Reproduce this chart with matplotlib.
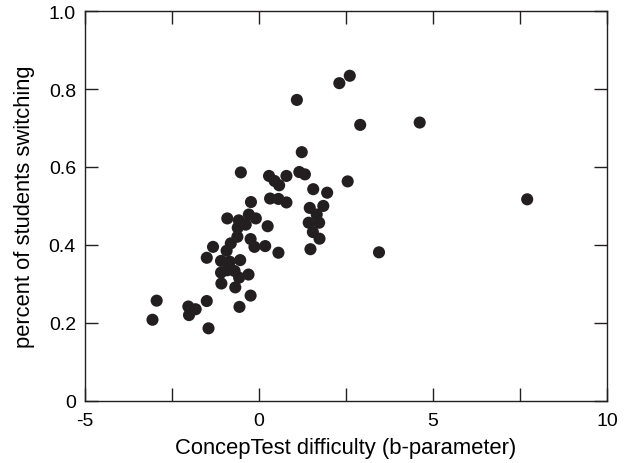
import matplotlib
matplotlib.use('Agg')
import matplotlib.pyplot as plt
import numpy as np

plt.rcParams["font.family"] = 'Liberation Sans'
plt.rcParams["font.size"] = 14

# b-parameter (difficulty) per ConcepTest
b_param = [-3.06, -2.94, -2.01, -2.03, -1.82, -1.50, -1.45, -1.50, -1.32, -1.09,
           -1.09, -1.08, -0.91, -0.93, -0.81, -0.84, -0.91, -0.70, -0.68, -0.58,
           -0.61, -0.62, -0.54, -0.57, -0.56, -0.52, -0.38, -0.29, -0.23, -0.24,
           -0.30, -0.24, -0.09, -0.13, 0.18, 0.25, 0.29, 0.32, 0.45, 0.58,
           0.56, 0.56, 0.79, 0.79, 1.09, 1.16, 1.32, 1.23, 1.56, 1.46,
           1.43, 1.55, 1.48, 1.66, 1.73, 1.74, 1.85, 1.96, 2.31, 2.61,
           2.55, 2.91, 3.45, 4.62, 7.71]
# fraction of students switching
frac_switch = [0.208, 0.257, 0.220, 0.242, 0.235, 0.256, 0.186, 0.367, 0.395, 0.359,
               0.329, 0.301, 0.468, 0.385, 0.404, 0.357, 0.335, 0.333, 0.291, 0.463,
               0.444, 0.421, 0.361, 0.316, 0.241, 0.586, 0.452, 0.478, 0.510, 0.415,
               0.324, 0.270, 0.468, 0.395, 0.397, 0.448, 0.577, 0.519, 0.564, 0.553,
               0.518, 0.380, 0.577, 0.509, 0.772, 0.587, 0.581, 0.638, 0.543, 0.495,
               0.457, 0.433, 0.389, 0.478, 0.457, 0.416, 0.500, 0.534, 0.815, 0.834,
               0.563, 0.708, 0.381, 0.714, 0.517]

x_ticks = [-5, 0, 5, 10]
x_labels = ['-5', '0', '5', '10']
y_ticks = [0, 0.2, 0.4, 0.6, 0.8, 1.0]
y_labels = ['0', '0.2', '0.4', '0.6', '0.8', '1.0']

fig = plt.figure(figsize=(6.25, 4.64), dpi=100)
ax = fig.add_axes([0.136, 0.134, 0.835, 0.840])
ax.scatter(b_param, frac_switch, s=76, c='#231f20', edgecolors='none', zorder=3)

ax.set_xlim(-5, 10)
ax.set_ylim(0, 1)
ax.set_xticks(x_ticks)
ax.set_xticklabels(x_labels)
ax.set_xticks([-2.5, 2.5, 7.5], minor=True)
ax.set_yticks(y_ticks)
ax.set_yticklabels(y_labels)
ax.tick_params(which='both', direction='in', top=True, right=True, length=9.5, width=1,
               color='#231f20')
ax.tick_params(axis='x', pad=8)
ax.tick_params(axis='y', pad=6.5)
for sp in ax.spines.values():
    sp.set_linewidth(1)
    sp.set_color('#231f20')

ax.set_xlabel('ConcepTest difficulty (b-parameter)', fontsize=15.8, labelpad=6)
ax.set_ylabel('percent of students switching', fontsize=15.8, labelpad=10)

plt.savefig('out.png', dpi=100)
